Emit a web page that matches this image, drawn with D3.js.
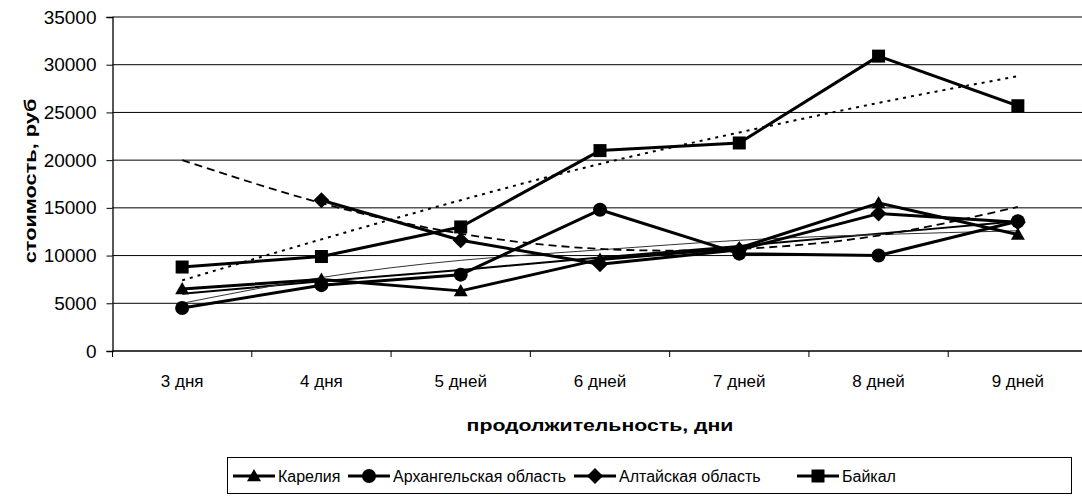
<!DOCTYPE html>
<html>
<head>
<meta charset="utf-8">
<script src="https://cdn.jsdelivr.net/npm/d3@7/dist/d3.min.js"></script>
<style>
  html, body { margin: 0; padding: 0; background: #fff; }
  svg { display: block; font-family: "Liberation Sans", Arial, sans-serif; }
</style>
</head>
<body>
<svg id="chart" width="1082" height="504"></svg>
<script>
// Tour cost by duration, four regions
const categories = ["3 дня", "4 дня", "5 дней", "6 дней", "7 дней", "8 дней", "9 дней"];
const yTicks = [0, 5000, 10000, 15000, 20000, 25000, 30000, 35000];

const karelia     = [6500, 7500, 6300, 9600, 10800, 15500, 12200];
const arkhangelsk = [4500, 6900, 8000, 14800, 10200, 10000, 13600];
const altai       = [null, 15800, 11600, 9100, 10600, 14400, 13500];
const baikal      = [8800, 9900, 13000, 21000, 21800, 30900, 25700];

// trend lines
const kareliaTrend     = [6000, 7300, 8500, 9800, 11000, 12300, 13600];
const arkhangelskTrend = [5000, 7700, 9500, 10600, 11600, 12200, 12600];
const altaiTrend       = [20000, 15500, 12300, 10700, 10700, 12100, 15100];
const baikalTrend      = [7400, 11700, 15800, 19600, 22900, 26000, 28800];

const seriesNames = ["Карелия", "Архангельская область", "Алтайская область", "Байкал"];

const svg = d3.select("#chart");

const plot = { left: 112.5, right: 1087.5, top: 17, bottom: 351 };

const x = d3.scaleBand().domain(categories).range([plot.left, plot.right]).padding(0);
const xc = c => x(c) + x.bandwidth() / 2;
const y = d3.scaleLinear().domain([0, 35000]).range([plot.bottom, plot.top]);

// horizontal gridlines
svg.append("g").selectAll("line")
  .data(yTicks.filter(d => d > 0))
  .join("line")
  .attr("x1", plot.left).attr("x2", plot.right)
  .attr("y1", d => y(d)).attr("y2", d => y(d))
  .attr("stroke", "#000").attr("stroke-width", 1);

// y axis
const yAxis = svg.append("g")
  .attr("transform", `translate(${plot.left},0)`)
  .call(d3.axisLeft(y).tickValues(yTicks).tickSize(6).tickPadding(10).tickFormat(d3.format("d")));
yAxis.select(".domain").attr("stroke", "#000").attr("stroke-width", 1.3);
yAxis.selectAll(".tick line").attr("stroke", "#000");
yAxis.selectAll("text").attr("font-size", 19).attr("fill", "#000")
  .attr("font-family", "Liberation Sans, Arial, sans-serif");

// x axis: boundary ticks and centred labels
const xg = svg.append("g");
xg.append("line")
  .attr("x1", plot.left).attr("x2", plot.right)
  .attr("y1", plot.bottom).attr("y2", plot.bottom)
  .attr("stroke", "#000").attr("stroke-width", 1.3);
const bounds = categories.map(c => x(c)).concat([x(categories[categories.length - 1]) + x.bandwidth()]);
xg.selectAll("line.tk").data(bounds).join("line").attr("class", "tk")
  .attr("x1", d => d).attr("x2", d => d)
  .attr("y1", plot.bottom).attr("y2", plot.bottom + 6)
  .attr("stroke", "#000");
xg.selectAll("text").data(categories).join("text")
  .attr("x", d => xc(d)).attr("y", 387)
  .attr("text-anchor", "middle").attr("font-size", 17).attr("fill", "#000")
  .text(d => d);

// axis titles (wide bold face)
svg.append("text")
  .attr("transform", "translate(600,431) scale(1.25,1)")
  .attr("text-anchor", "middle").attr("font-size", 17).attr("font-weight", "bold")
  .text("продолжительность, дни");
svg.append("text")
  .attr("transform", "translate(36,181) rotate(-90) scale(1.28,1)")
  .attr("text-anchor", "middle").attr("font-size", 17).attr("font-weight", "bold")
  .text("стоимость, руб");

// line generators
const lineGen = d3.line()
  .defined(d => d.v !== null)
  .x(d => xc(d.c)).y(d => y(d.v));
const curveGen = d3.line()
  .x(d => xc(d.c)).y(d => y(d.v)).curve(d3.curveNatural);
const pts = arr => arr.map((v, i) => ({ c: categories[i], v }));

// trend lines (behind the data)
const trends = [
  { data: kareliaTrend, width: 2, dash: null, color: "#000", curve: false },
  { data: arkhangelskTrend, width: 1, dash: null, color: "#333", curve: true },
  { data: altaiTrend, width: 1.8, dash: "8,5", color: "#000", curve: true },
  { data: baikalTrend, width: 2, dash: "3,5", color: "#000", curve: true }
];
svg.append("g").selectAll("path").data(trends).join("path")
  .attr("d", t => (t.curve ? curveGen : lineGen)(pts(t.data)))
  .attr("fill", "none")
  .attr("stroke", t => t.color)
  .attr("stroke-width", t => t.width)
  .attr("stroke-dasharray", t => t.dash);

// marker shapes
function drawMarker(g, kind, cx, cy) {
  if (kind === "triangle") {
    const s = 7;
    g.append("path").attr("d", `M${cx},${cy - s} L${cx + s},${cy + s * 0.75} L${cx - s},${cy + s * 0.75} Z`).attr("fill", "#000");
  } else if (kind === "circle") {
    g.append("circle").attr("cx", cx).attr("cy", cy).attr("r", 7).attr("fill", "#000");
  } else if (kind === "diamond") {
    const s = 8;
    g.append("path").attr("d", `M${cx},${cy - s} L${cx + s},${cy} L${cx},${cy + s} L${cx - s},${cy} Z`).attr("fill", "#000");
  } else if (kind === "square") {
    g.append("rect").attr("x", cx - 6.5).attr("y", cy - 6.5).attr("width", 13).attr("height", 13).attr("fill", "#000");
  }
}

const series = [
  { name: seriesNames[0], data: karelia, marker: "triangle" },
  { name: seriesNames[1], data: arkhangelsk, marker: "circle" },
  { name: seriesNames[2], data: altai, marker: "diamond" },
  { name: seriesNames[3], data: baikal, marker: "square" }
];

series.forEach(s => {
  const g = svg.append("g");
  g.append("path")
    .attr("d", lineGen(pts(s.data)))
    .attr("fill", "none").attr("stroke", "#000").attr("stroke-width", 3)
    .attr("stroke-linejoin", "round");
  pts(s.data).filter(d => d.v !== null).forEach(d => drawMarker(g, s.marker, xc(d.c), y(d.v)));
});

// legend
const legend = svg.append("g");
legend.append("rect")
  .attr("x", 227.5).attr("y", 457.5).attr("width", 844).attr("height", 36)
  .attr("fill", "#fff").attr("stroke", "#000").attr("stroke-width", 1);
const legendX = [233, 348, 574, 797];
series.forEach((s, i) => {
  const g = legend.append("g");
  const lx = legendX[i], ly = 476;
  g.append("line").attr("x1", lx).attr("x2", lx + 42).attr("y1", ly).attr("y2", ly)
    .attr("stroke", "#000").attr("stroke-width", 3);
  drawMarker(g, s.marker, lx + 21, ly);
  g.append("text").attr("x", lx + 45).attr("y", ly + 6)
    .attr("font-size", 16).attr("fill", "#000").text(s.name);
});
</script>
</body>
</html>
